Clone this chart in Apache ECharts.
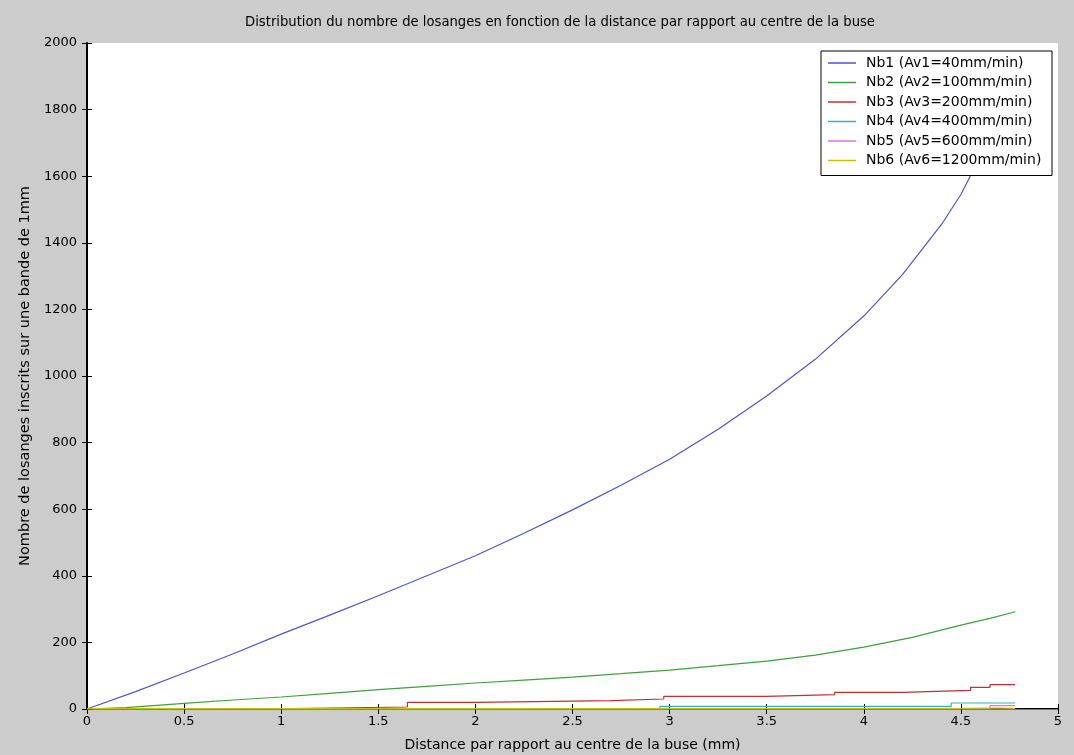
<!DOCTYPE html>
<html>
<head>
<meta charset="utf-8">
<script src="https://cdn.jsdelivr.net/npm/echarts@6/dist/echarts.min.js"></script>
<style>
  html, body { margin: 0; padding: 0; background: #cccccc; }
  #main { width: 1074px; height: 755px; }
</style>
</head>
<body>
<div id="main"></div>
<script>
// valeurs (distance en mm, nombre de losanges)
var names = ['Nb1 (Av1=40mm/min)', 'Nb2 (Av2=100mm/min)', 'Nb3 (Av3=200mm/min)',
             'Nb4 (Av4=400mm/min)', 'Nb5 (Av5=600mm/min)', 'Nb6 (Av6=1200mm/min)'];
var colors = ['#5252cc', '#3f9f3f', '#c23030', '#33b5b5', '#dd77dd', '#c4c400'];

var nb1X = [0, 0.25, 0.5, 0.75, 1, 1.25, 1.5, 1.75, 2, 2.25, 2.5, 2.75, 3, 3.25, 3.5, 3.75, 4, 4.2, 4.4, 4.5, 4.6, 4.7, 4.78];
var nb1Y = [0, 52, 108, 165, 225, 282, 340, 400, 460, 528, 598, 672, 750, 840, 940, 1050, 1180, 1305, 1455, 1545, 1660, 1800, 1960];

var nb2X = [0, 0.2, 0.5, 0.75, 1, 1.25, 1.5, 1.75, 2, 2.25, 2.5, 2.75, 3, 3.25, 3.5, 3.75, 4, 4.25, 4.5, 4.65, 4.78];
var nb2Y = [0, 4, 17, 27, 36, 47, 58, 68, 78, 87, 96, 106, 117, 130, 144, 162, 186, 215, 252, 272, 292];

var nb3X = [0, 0.86, 1.65, 2.0, 2.7, 2.97, 3.5, 3.85, 4.2, 4.55, 4.65, 4.78];
var nb3Y = [0, 6, 20, 25, 30, 38, 43, 50, 56, 65, 73, 73];

var nb4X = [0, 2.95, 4.45, 4.78];
var nb4Y = [1, 8, 18, 18];

var nb5X = [0, 4.65, 4.78];
var nb5Y = [1, 10, 10];

var nb6X = [0, 4.45, 4.65, 4.78];
var nb6Y = [1, 3, 2, 2];

var allX = [nb1X, nb2X, nb3X, nb4X, nb5X, nb6X];
var allY = [nb1Y, nb2Y, nb3Y, nb4Y, nb5Y, nb6Y];

function pairs(xs, ys) {
    var out = [];
    for (var i = 0; i < xs.length; i++) out.push([xs[i], ys[i]]);
    return out;
}

var seriesData = [];
for (var k = 0; k < names.length; k++) {
    seriesData.push({
        name: names[k],
        type: 'line',
        data: pairs(allX[k], allY[k]),
        symbol: 'none',
        step: k >= 2 ? 'end' : false,
        lineStyle: { width: 1.2, color: colors[k] },
        itemStyle: { color: colors[k] },
        animation: false
    });
}

var font = 'DejaVu Sans, sans-serif';
var chart = echarts.init(document.getElementById('main'));
var option = {
    backgroundColor: '#cccccc',
    color: colors,
    title: {
        text: 'Distribution du nombre de losanges en fonction de la distance par rapport au centre de la buse',
        left: 555,
        textAlign: 'center',
        top: 11,
        textStyle: { fontFamily: font, fontSize: 13.2, fontWeight: 'normal', color: '#000' }
    },
    legend: {
        orient: 'vertical',
        left: 821,
        top: 51,
        icon: 'rect',
        itemWidth: 28,
        itemHeight: 1.5,
        itemGap: 5.5,
        padding: [5, 6, 8, 7],
        backgroundColor: '#fff',
        borderColor: '#000',
        borderWidth: 1,
        borderRadius: 0,
        textStyle: { fontFamily: font, fontSize: 14, color: '#000', lineHeight: 14, width: 180, padding: [0, 0, 0, 5] },
        data: names
    },
    grid: {
        left: 87, right: 16, top: 43, bottom: 46,
        outerBoundsMode: 'none',
        show: true, backgroundColor: '#fff', borderColor: '#000', borderWidth: 0
    },
    xAxis: [{
        type: 'value',
        min: 0, max: 5, interval: 0.5,
        name: 'Distance par rapport au centre de la buse (mm)',
        nameLocation: 'middle',
        nameGap: 29,
        nameTextStyle: { fontFamily: font, fontSize: 14, color: '#000' },
        axisLine: { show: true, lineStyle: { color: '#000', width: 2 } },
        axisTick: { show: true, inside: true, length: 5, lineStyle: { color: '#000' } },
        axisLabel: { fontFamily: font, fontSize: 13, color: '#000', margin: 6 },
        splitLine: { show: false }
    }, {
        type: 'value', position: 'top',
        min: 0, max: 5, interval: 0.5,
        axisLine: { show: true, lineStyle: { color: '#777', width: 1 } },
        axisTick: { show: true, inside: true, length: 5, lineStyle: { color: '#000' } },
        axisLabel: { show: false },
        splitLine: { show: false }
    }],
    yAxis: [{
        type: 'value',
        min: 0, max: 2000, interval: 200,
        name: 'Nombre de losanges inscrits sur une bande de 1mm',
        nameLocation: 'middle',
        nameGap: 47,
        nameTextStyle: { fontFamily: font, fontSize: 14.5, color: '#000' },
        axisLine: { show: true, lineStyle: { color: '#777', width: 1 } },
        axisTick: { show: true, inside: true, length: 5, lineStyle: { color: '#000' } },
        axisLabel: {
            fontFamily: font, fontSize: 13, color: '#000', margin: 10,
            formatter: function (v) { return String(v); }
        },
        splitLine: { show: false }
    }, {
        type: 'value', position: 'right',
        min: 0, max: 2000, interval: 200,
        axisLine: { show: true, lineStyle: { color: '#000', width: 2 } },
        axisTick: { show: true, inside: true, length: 5, lineStyle: { color: '#000' } },
        axisLabel: { show: false },
        splitLine: { show: false }
    }],
    series: seriesData
};
chart.setOption(option);
</script>
</body>
</html>
